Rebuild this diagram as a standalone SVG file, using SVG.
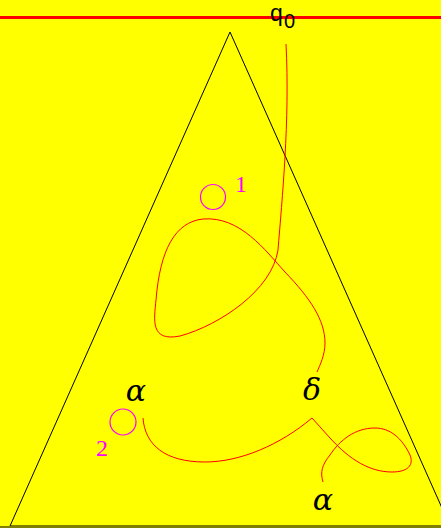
<svg xmlns="http://www.w3.org/2000/svg" width="441" height="528" viewBox="0 0 441 528">
<style>
.curve{fill:none;stroke:#ff0000;stroke-width:1}
.mag{fill:none;stroke:#ff00ff;stroke-width:1.2}
.lbl{font-family:"DejaVu Serif",serif;font-style:italic;font-size:30px;fill:#000}
.num{font-family:"Liberation Serif",serif;font-size:24px;fill:#ff00ff}
.q{font-family:"Liberation Sans",sans-serif;fill:#000}
</style>
<rect x="0" y="0" width="441" height="528" fill="#ffff00"/>
<g id="triangle"><polygon points="230,32 10,526 450,526" fill="none" stroke="#000" stroke-width="1"/></g>
<rect x="0" y="526" width="441" height="2" fill="#808000"/>
<line x1="0" y1="17.5" x2="441" y2="17.5" stroke="#ff0000" stroke-width="3"/>
<g id="q0"><text class="q" x="270" y="21" font-size="23">q</text><text class="q" x="284" y="28" font-size="20">0</text></g>
<g id="connectors">
<path class="curve" d="M286,44 C 290,120 282,200 278,250 C 272,290 220,325 180,336 C 150,342 154,320 156,300 C 160,250 175,222 203,219 C 240,216 265,250 285,272 C 310,298 325,320 325,343 C 325,355 320,365 317,372"/>
<path class="curve" d="M143,418 C 145,445 165,462 205,462 C 240,462 280,445 312,418 L 330,438 C 350,460 370,472 392,472 C 408,472 414,465 410,455 C 402,438 390,428 375,428 C 355,428 340,440 330,455 C 322,465 320,472 323,482"/>
</g>
<g id="node1"><circle class="mag" cx="213" cy="197" r="12.5"/><text class="num" x="235" y="192">1</text></g>
<g id="node2"><circle class="mag" cx="123" cy="422" r="13"/><text class="num" x="96" y="456">2</text></g>
<g id="alpha1"><text class="lbl" x="136" y="401" text-anchor="middle">α</text></g>
<g id="delta"><text class="lbl" x="312" y="400" text-anchor="middle" font-size="33">δ</text></g>
<g id="alpha2"><text class="lbl" x="323" y="510" text-anchor="middle">α</text></g>
</svg>
